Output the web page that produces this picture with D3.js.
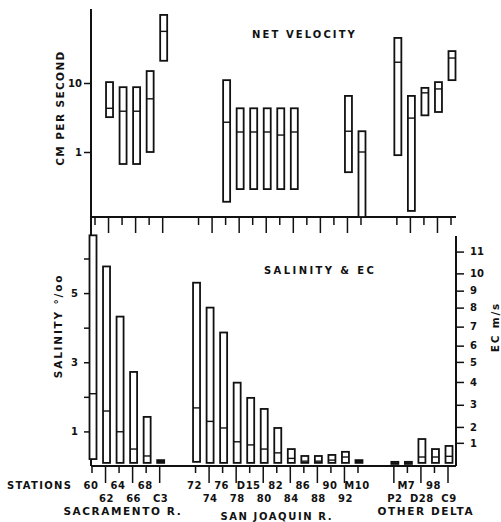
<!DOCTYPE html>
<html><head><meta charset="utf-8">
<script src="https://cdn.jsdelivr.net/npm/d3@7"></script>
<style>
body{margin:0;background:#fff;}
svg text{font-family:"DejaVu Sans",sans-serif;font-weight:bold;fill:#111;}
</style></head>
<body><svg id="c" width="501" height="522"></svg>
<script>
// ---- data ----
const sacramento = ["60","62","64","66","68","C3"];
const sanJoaquin = ["72","74","76","78","D15","80","82","84","86","88","90","92","M10"];
const otherDelta = ["P2","M7","D28","98","C9"];
const groupNames = ["SACRAMENTO R.","SAN JOAQUIN R.","OTHER DELTA"];
const stations = sacramento.concat(sanJoaquin, otherDelta);

// net velocity, cm/s (null = no data)
const velMin = [null,3.2,0.67,0.67,1.0,21, null,null,0.19,0.29,0.29,0.29,0.29,0.29,null,null,null,0.51,0.1, 0.9,0.14,3.4,3.8,11];
const velMed = [null,4.3,3.9,3.9,5.9,56, null,null,2.7,1.95,1.95,1.95,1.76,1.95,null,null,null,2.0,1.0, 20,3.1,7.2,8.2,23];
const velMax = [null,10.3,8.7,8.7,14.9,97, null,null,11,4.3,4.3,4.3,4.3,4.3,null,null,null,6.5,2.0, 45,6.5,8.5,10.3,29];

// salinity, parts per thousand
const salMin = [0.20,0.09,0.09,0.09,0.09,0.09, 0.12,0.09,0.09,0.09,0.09,0.09,0.09,0.09,0.09,0.09,0.09,0.09,0.09, 0.06,0.06,0.09,0.09,0.09];
const salMed = [2.09,1.59,0.99,0.49,0.29,0.13, 1.68,1.29,1.10,0.70,0.61,0.49,0.38,0.22,0.14,0.14,0.17,0.26,0.13, 0.09,0.09,0.26,0.26,0.28];
const salMax = [6.67,5.77,4.32,2.72,1.42,0.17, 5.30,4.58,3.86,2.41,1.97,1.65,1.10,0.49,0.29,0.29,0.32,0.41,0.17, 0.12,0.12,0.78,0.49,0.58];

const velTicks = [1,10];
const salTicks = [1,2,3,4,5,6];
const salLabels = [1,3,5];
const ecTicks = [1,2,3,4,5,6,7,8,9,10,11];
const ecSalEquiv = [0.67,1.13,1.77,2.43,3.01,3.48,4.03,4.58,5.07,5.57,6.20];

// ---- layout ----
const svg = d3.select("#c");
const L = 91, R = 456, B = 466, MID = 217, TOP = 9;
const gap = 1.65;
const groups = [sacramento, sanJoaquin, otherDelta];
const slot = [], gIdx = [], inG = [];
let s = 0;
groups.forEach((g,gi)=>{ g.forEach((st,i)=>{ slot.push(s); gIdx.push(gi); inG.push(i); s += 1; }); s += gap; });
const lastSlot = slot[slot.length-1];
const x = d3.scaleLinear().domain([0,lastSlot]).range([92,448]);
const yV = d3.scaleLog().domain([0.1,100]).range([221,14]);
const yS = d3.scaleLinear().domain([0,7.2]).range([B,MID]);
const yEC = d3.scaleLinear().domain(ecTicks).range(ecSalEquiv.map(v=>yS(v)));

const ink = "#111";
// frame lines
svg.append("line").attr("x1",L).attr("x2",L).attr("y1",TOP).attr("y2",B).attr("stroke",ink).attr("stroke-width",2);
svg.append("line").attr("x1",L).attr("x2",R).attr("y1",MID).attr("y2",MID).attr("stroke",ink).attr("stroke-width",2);
svg.append("line").attr("x1",L).attr("x2",R).attr("y1",B).attr("y2",B).attr("stroke",ink).attr("stroke-width",2);
svg.append("line").attr("x1",R).attr("x2",R).attr("y1",236).attr("y2",B).attr("stroke",ink).attr("stroke-width",2);

// upper axis
const axV = svg.append("g").attr("transform",`translate(${L},0)`)
  .call(d3.axisLeft(yV).tickValues(velTicks).tickSize(7).tickFormat(d3.format("d")));
axV.select(".domain").remove();
axV.selectAll("line").attr("stroke",ink).attr("stroke-width",1.5);
axV.selectAll("text").attr("font-size",10).attr("x",-9).style("font-family","DejaVu Sans").style("font-weight","bold");

// lower left axis
const axS = svg.append("g").attr("transform",`translate(${L},0)`)
  .call(d3.axisLeft(yS).tickValues(salTicks).tickSize(7).tickFormat(d=>salLabels.includes(d)?d:""));
axS.select(".domain").remove();
axS.selectAll("line").attr("stroke",ink).attr("stroke-width",1.5);
axS.selectAll("text").attr("font-size",10).attr("x",-13).style("font-family","DejaVu Sans").style("font-weight","bold");

// right EC axis
const axE = svg.append("g").attr("transform",`translate(${R},0)`)
  .call(d3.axisRight(yEC).tickValues(ecTicks).tickSize(8).tickFormat(d3.format("d")));
axE.select(".domain").remove();
axE.selectAll("line").attr("stroke",ink).attr("stroke-width",1.5);
axE.selectAll("text").attr("font-size",10).attr("x",14).style("font-family","DejaVu Sans").style("font-weight","bold");

// ticks hanging from the middle line
const idx = d3.range(stations.length);
svg.append("g").selectAll("line").data(idx).join("line")
  .attr("x1",i=>x(slot[i])+3).attr("x2",i=>x(slot[i])+3)
  .attr("y1",MID).attr("y2",i=>MID + (inG[i]%2===0?8:16))
  .attr("stroke",ink).attr("stroke-width",1.5);

// bottom ticks & labels
const row = i => (inG[i] + (gIdx[i]===2?1:0)) % 2;
svg.append("g").selectAll("line").data(idx).join("line")
  .attr("x1",i=>x(slot[i])).attr("x2",i=>x(slot[i]))
  .attr("y1",B).attr("y2",i=>B + (row(i)===0?7:17))
  .attr("stroke",ink).attr("stroke-width",1.5);
svg.append("g").selectAll("text").data(idx).join("text")
  .attr("x",i=>x(slot[i])+(row(i)===0?-1:1)).attr("y",i=>row(i)===0?489:502)
  .attr("text-anchor","middle").attr("font-size",10).attr("letter-spacing",0.5)
  .text(i=>stations[i]);
svg.append("text").attr("x",7).attr("y",489).attr("font-size",10).attr("letter-spacing",1.3).text("STATIONS");
groups.forEach((g,gi)=>{
  const xs = g.map(st=>x(slot[stations.indexOf(st)]));
  const cx = (d3.min(xs)+d3.max(xs))/2 + (gi===0?-3:gi===2?5:0);
  svg.append("text").attr("x",cx).attr("y",gi===1?520:515).attr("text-anchor","middle")
    .attr("font-size",gi===1?10:10.5).attr("letter-spacing",1.6).text(groupNames[gi]);
});

// bars
const bw = 7;
const vIdx = idx.filter(i=>velMax[i]!==null);
const clampV = v => Math.min(yV(v), MID);
const gv = svg.append("g");
gv.selectAll("rect").data(vIdx).join("rect")
  .attr("x",i=>x(slot[i])+4-bw/2).attr("width",bw)
  .attr("y",i=>yV(velMax[i])).attr("height",i=>clampV(velMin[i])-yV(velMax[i]))
  .attr("fill","#fff").attr("stroke",ink).attr("stroke-width",1.8);
gv.selectAll("line").data(vIdx).join("line")
  .attr("x1",i=>x(slot[i])+4-bw/2).attr("x2",i=>x(slot[i])+4+bw/2)
  .attr("y1",i=>yV(velMed[i])).attr("y2",i=>yV(velMed[i]))
  .attr("stroke",ink).attr("stroke-width",1.4);

const gs = svg.append("g");
gs.selectAll("rect").data(idx).join("rect")
  .attr("x",i=>x(slot[i])+1-bw/2).attr("width",bw)
  .attr("y",i=>yS(salMax[i])).attr("height",i=>yS(salMin[i])-yS(salMax[i]))
  .attr("fill","#fff").attr("stroke",ink).attr("stroke-width",1.8);
gs.selectAll("line").data(idx).join("line")
  .attr("x1",i=>x(slot[i])+1-bw/2).attr("x2",i=>x(slot[i])+1+bw/2)
  .attr("y1",i=>yS(salMed[i])).attr("y2",i=>yS(salMed[i]))
  .attr("stroke",ink).attr("stroke-width",1.4);

// titles
svg.append("text").attr("x",252).attr("y",38).attr("font-size",10).attr("letter-spacing",2.1).text("NET VELOCITY");
svg.append("text").attr("x",264).attr("y",274).attr("font-size",10).attr("letter-spacing",2.4).text("SALINITY & EC");
svg.append("text").attr("transform","translate(64,108) rotate(-90)").attr("text-anchor","middle")
  .attr("font-size",10.5).attr("letter-spacing",1.4).text("CM PER SECOND");
svg.append("text").attr("transform","translate(62,326) rotate(-90)").attr("text-anchor","middle")
  .attr("font-size",10.5).attr("letter-spacing",1.8).text("SALINITY  °/oo");
svg.append("text").attr("transform","translate(499,327) rotate(-90)").attr("text-anchor","middle")
  .attr("font-size",10.5).attr("letter-spacing",1.8).text("EC m/s");
</script></body></html>
